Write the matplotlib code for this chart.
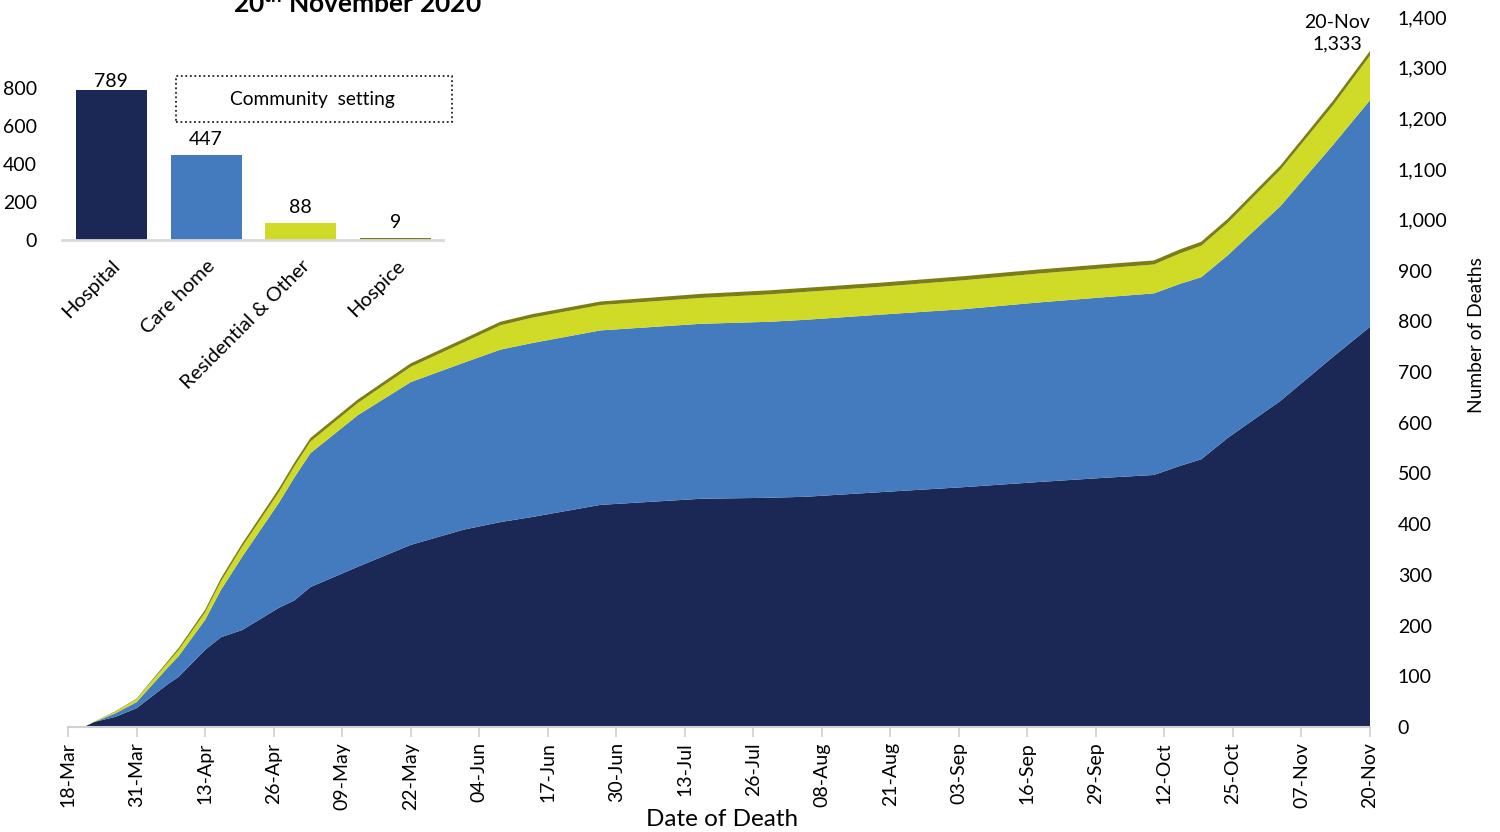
import matplotlib
matplotlib.use('Agg')
import matplotlib.pyplot as plt
from matplotlib.patches import Rectangle
from matplotlib.ticker import FuncFormatter
import pandas as pd

plt.rcParams['font.family'] = ['Lato', 'DejaVu Sans']
plt.rcParams['mathtext.fontset'] = 'custom'
plt.rcParams['mathtext.bf'] = 'Lato:bold'
plt.rcParams['mathtext.rm'] = 'Lato'

# ---------------- data ----------------
dates = ['2020-03-18', '2020-03-21', '2020-03-23', '2020-03-27', '2020-03-31',
         '2020-04-06', '2020-04-08', '2020-04-13', '2020-04-16', '2020-04-20',
         '2020-04-27', '2020-04-30', '2020-05-03', '2020-05-12', '2020-05-22',
         '2020-06-01', '2020-06-08', '2020-06-14', '2020-06-27', '2020-07-16',
         '2020-07-29', '2020-08-05', '2020-08-19', '2020-09-04', '2020-09-18',
         '2020-09-30', '2020-10-10', '2020-10-15', '2020-10-19', '2020-10-24',
         '2020-11-03', '2020-11-13', '2020-11-20']
hospital = [0, 0, 10, 20, 37, 85, 99, 152, 177, 191, 235, 250, 276, 316, 359,
            389, 404, 414, 438, 450, 452, 454, 463, 473, 483, 491, 497, 515,
            528, 570, 643, 730, 789]
care_home = [0, 0, 0, 7, 12, 33, 41, 59, 93, 144, 207, 243, 264, 299, 321,
             329, 340, 343, 344, 345, 347, 349, 350, 351, 354, 356, 358, 359,
             359, 360, 384, 418, 447]
residential = [0, 0, 1, 3, 6, 10, 12, 15, 17, 20, 21, 22, 23, 24, 30,
               40, 48, 50, 50, 51, 54, 55, 55, 57, 57, 57, 57, 60,
               62, 64, 72, 78, 88]
hospice = [0, 0, 0, 1, 1, 3, 4, 5, 6, 6, 7, 7, 7, 7, 7,
           7, 7, 7, 7, 8, 8, 8, 8, 8, 8, 8, 8, 8,
           8, 8, 8, 9, 9]

bar_categories = ['Hospital', 'Care home', 'Residential & Other', 'Hospice']
bar_values = [789, 447, 88, 9]

tick_start, tick_end, tick_step = '2020-03-18', '2020-11-20', '13D'
y_ticks = list(range(0, 1401, 100))
inset_y_ticks = [0, 200, 400, 600, 800]
final_label = '20-Nov\n1,333'

colors = ['#1b2856', '#447bbe', '#cfdb27', '#7b7e14']

# ---------------- figure ----------------
W, H = 1500, 832
fig = plt.figure(figsize=(W / 100, H / 100), dpi=100)

def fx(px):
    return px / W

def fy(py):
    return 1 - py / H

x = pd.to_datetime(dates)
ax = fig.add_axes([fx(68), fy(727), fx(1370) - fx(68), fy(17) - fy(727)])
ax.stackplot(x, hospital, care_home, residential, hospice, colors=colors,
             linewidth=0)
ax.set_xlim(x[0], x[-1])
ax.set_ylim(0, 1400)

ticks = pd.date_range(tick_start, tick_end, freq=tick_step)
ax.set_xticks(ticks)
ax.set_xticklabels([t.strftime('%d-%b') for t in ticks], rotation=90,
                   fontsize=14)
ax.tick_params(axis='x', length=7, color='#d0d0d0', width=1.2, pad=4)

ax.yaxis.tick_right()
ax.set_yticks(y_ticks)
ax.yaxis.set_major_formatter(FuncFormatter(lambda v, p: f'{int(v):,}'))
ax.tick_params(axis='y', length=0, labelsize=14, pad=20)
for lab in ax.get_yticklabels():
    lab.set_horizontalalignment('left')

for s in ['top', 'left', 'right']:
    ax.spines[s].set_visible(False)
ax.spines['bottom'].set_color('#d0d0d0')
ax.spines['bottom'].set_linewidth(1.5)

fig.text(fx(722), fy(820), 'Date of Death', ha='center', va='center',
         fontsize=17.5)
fig.text(fx(1477), fy(335), 'Number of Deaths', rotation=90, ha='center',
         va='center', fontsize=13.8)
fig.text(fx(1337), fy(33), final_label, ha='center', va='center',
         fontsize=14, linespacing=1.3)

# title (partially cut at top)
fig.text(fx(357), fy(13), r'20$^{\mathbf{th}}$ November 2020', ha='center',
         va='baseline', fontsize=19, fontweight='bold')

# ---------------- inset bar chart ----------------
ax2 = fig.add_axes([fx(62), fy(240), fx(443) - fx(62), fy(69) - fy(240)])
pos = list(range(len(bar_categories)))
ax2.bar(pos, bar_values, width=0.75, color=colors)
ax2.set_xlim(-0.52, 3.5)
ax2.set_ylim(0, 900)
ax2.set_yticks(inset_y_ticks)
ax2.tick_params(axis='y', length=0, labelsize=14, pad=18)
ax2.set_xticks(pos)
ax2.set_xticklabels(bar_categories, rotation=45, ha='right',
                    rotation_mode='anchor', fontsize=14.5)
ax2.tick_params(axis='x', length=0, pad=12)
for s in ['top', 'left', 'right']:
    ax2.spines[s].set_visible(False)
ax2.spines['bottom'].set_color('#d9d9d9')
ax2.spines['bottom'].set_linewidth(2)
ax2.patch.set_alpha(0)
for p, v in zip(pos, bar_values):
    ax2.annotate(str(v), (p, v), xytext=(0, 0 if v > 700 else 5),
                 textcoords='offset points', ha='center', va='bottom',
                 fontsize=14)

# community setting box
fig.patches.append(Rectangle((fx(176), fy(122)), fx(452) - fx(176),
                             fy(76) - fy(122), transform=fig.transFigure,
                             fill=False, linestyle=(0, (1, 1.5)),
                             linewidth=1.3, edgecolor='#222222'))
fig.text(fx(312), fy(100), 'Community  setting', ha='center', va='center',
         fontsize=13.8)

fig.savefig('out.png', dpi=100)
